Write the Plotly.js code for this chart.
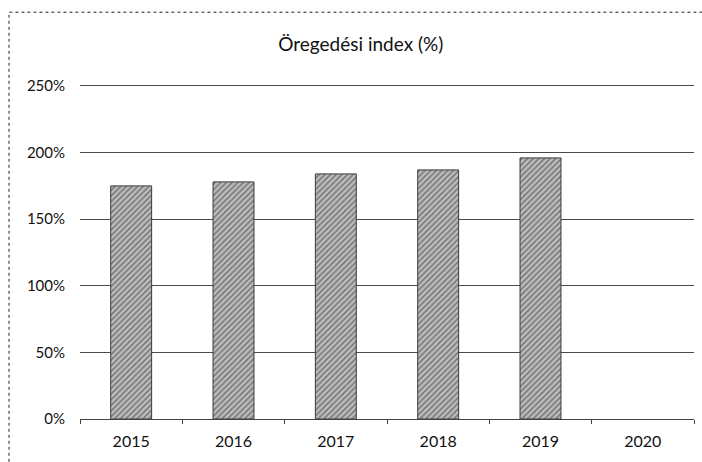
<!DOCTYPE html>
<html>
<head>
<meta charset="utf-8">
<script src="https://cdn.plot.ly/plotly-3.0.1.min.js"></script>
<style>html,body{margin:0;padding:0;background:#fff;}#chart{width:702px;height:462px;}</style>
</head>
<body>
<div id="chart"></div>
<script>
const years = ["2015", "2016", "2017", "2018", "2019", "2020"];
const indexValues = [175, 178, 184, 187, 196, null];
const yTicks = [0, 50, 100, 150, 200, 250];
const yTickLabels = ["0%", "50%", "100%", "150%", "200%", "250%"];
const chartTitle = "Öregedési index (%)";

const FONT = "Lato, 'Open Sans', sans-serif";

const trace = {
  type: "bar",
  x: years,
  y: indexValues,
  width: 0.4,
  marker: {
    color: "#a6a6a6",
    line: {color: "#3a3a3a", width: 1},
    pattern: {shape: "/", fgcolor: "#6e6e6e", bgcolor: "#bcbcbc", size: 4, solidity: 0.35}
  },
  hoverinfo: "x+y"
};

const layout = {
  width: 702, height: 462,
  margin: {l: 80, r: 8, t: 80, b: 43},
  paper_bgcolor: "#ffffff",
  plot_bgcolor: "#ffffff",
  showlegend: false,
  font: {family: FONT, size: 15, color: "#111"},
  title: {
    text: chartTitle,
    font: {family: FONT, size: 19, color: "#111"},
    x: 0.514, xref: "container", xanchor: "center",
    y: 0.905, yref: "container", yanchor: "middle"
  },
  xaxis: {
    type: "category",
    categoryorder: "array",
    categoryarray: years,
    showgrid: false,
    showline: true, linecolor: "#444", linewidth: 1,
    ticks: "outside", tickson: "boundaries", ticklen: 4, tickcolor: "#444",
    ticklabelstandoff: 8,
    tickfont: {family: FONT, size: 16, color: "#111"},
    fixedrange: true
  },
  yaxis: {
    range: [0, 254.5],
    tickvals: yTicks,
    ticktext: yTickLabels,
    showgrid: true, gridcolor: "#4a4a4a", gridwidth: 1,
    zeroline: false,
    showline: false,
    ticks: "",
    ticklabelstandoff: 14,
    tickfont: {family: FONT, size: 15, color: "#111"},
    fixedrange: true
  },
  shapes: [{
    type: "rect", xref: "paper", yref: "paper",
    x0: -0.1156, x1: 1.03, y0: -0.2, y1: 1.2,
    line: {color: "#222", width: 1, dash: "dot"},
    fillcolor: "rgba(0,0,0,0)", layer: "below"
  }]
};

Plotly.newPlot("chart", [trace], layout, {displayModeBar: false, staticPlot: true});
</script>
</body>
</html>
